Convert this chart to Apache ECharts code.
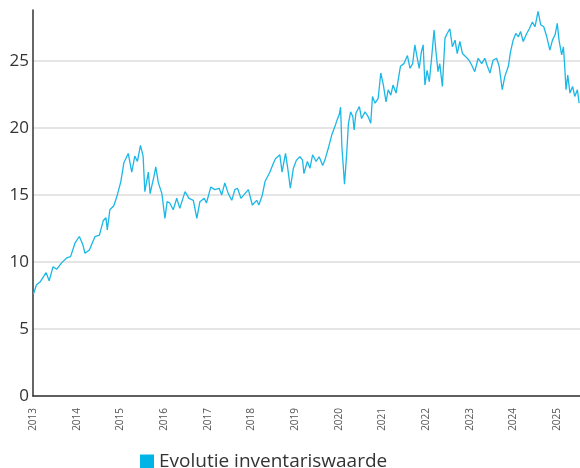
<!DOCTYPE html>
<html>
<head>
<meta charset="utf-8">
<script src="https://cdn.jsdelivr.net/npm/echarts@6/dist/echarts.min.js"></script>
<style>
html,body{margin:0;padding:0;background:#fff;}
#chart{width:580px;height:468px;}
</style>
</head>
<body>
<div id="chart"></div>
<script>
// decimal years
const years = [
2013.01,2013.08,2013.16,2013.30,2013.37,2013.46,2013.54,2013.66,2013.77,2013.86,2013.96,
2014.06,2014.14,2014.19,2014.29,2014.42,2014.52,2014.61,2014.67,2014.70,2014.76,2014.85,2014.93,
2015.01,2015.08,2015.18,2015.26,2015.33,2015.39,2015.46,2015.52,2015.56,2015.64,2015.68,2015.77,2015.81,2015.87,2015.95,
2016.02,2016.07,2016.13,2016.21,2016.29,2016.36,2016.48,2016.57,2016.67,2016.75,2016.82,2016.92,2016.97,
2017.07,2017.16,2017.26,2017.32,2017.39,2017.47,2017.55,2017.62,2017.68,2017.76,2017.85,2017.93,
2018.02,2018.12,2018.17,2018.25,2018.31,2018.42,2018.50,2018.55,2018.65,2018.70,2018.78,2018.83,2018.89,2018.96,
2019.03,2019.11,2019.17,2019.20,2019.28,2019.34,2019.40,2019.48,2019.55,2019.63,2019.68,2019.76,2019.84,2019.91,2019.96,
2020.01,2020.04,2020.07,2020.13,2020.18,2020.22,2020.27,2020.32,2020.35,2020.39,2020.47,2020.52,2020.60,2020.67,2020.73,2020.77,2020.83,2020.90,2020.96,
2021.02,2021.08,2021.13,2021.19,2021.24,2021.31,2021.36,2021.41,2021.49,2021.57,2021.63,2021.69,2021.74,2021.79,2021.84,2021.89,2021.93,2021.97,
2022.02,2022.07,2022.12,2022.18,2022.22,2022.27,2022.31,2022.37,2022.43,2022.48,2022.54,2022.60,2022.66,2022.71,2022.77,2022.83,2022.91,2022.98,
2023.04,2023.11,2023.19,2023.27,2023.34,2023.40,2023.46,2023.53,2023.61,2023.67,2023.74,2023.80,2023.88,2023.93,2023.99,
2024.05,2024.11,2024.16,2024.22,2024.30,2024.36,2024.43,2024.49,2024.56,2024.62,2024.69,2024.76,2024.83,2024.89,2024.95,
2025.00,2025.04,2025.10,2025.14,2025.17,2025.20,2025.24,2025.29,2025.35,2025.40,2025.46,2025.50
];
const values = [
7.6,8.3,8.5,9.2,8.6,9.65,9.45,9.95,10.3,10.4,11.4,
11.9,11.3,10.65,10.9,11.9,12.0,13.1,13.3,12.4,13.9,14.2,15.0,
16.0,17.4,18.1,16.7,17.9,17.5,18.7,17.9,15.25,16.7,15.1,16.4,17.1,15.9,15.1,
13.25,14.5,14.4,13.9,14.75,14.0,15.25,14.75,14.6,13.25,14.5,14.75,14.4,
15.6,15.4,15.5,15.0,15.9,15.1,14.6,15.4,15.5,14.75,15.1,15.4,
14.25,14.6,14.25,15.0,16.0,16.7,17.35,17.7,18.0,16.7,18.1,17.0,15.5,17.0,
17.6,17.85,17.6,16.6,17.5,17.0,18.0,17.5,17.85,17.2,17.6,18.5,19.5,20.1,20.6,
21.0,21.55,18.6,15.8,18.1,20.35,21.2,20.85,19.85,21.1,21.6,20.7,21.2,20.85,20.35,22.35,21.85,22.2,24.1,
23.2,21.95,22.85,22.45,23.2,22.6,23.6,24.6,24.8,25.4,24.45,24.8,26.2,25.3,24.45,25.7,26.2,23.2,
24.3,23.45,25.1,27.3,25.8,24.2,24.8,23.1,26.7,27.05,27.4,26.05,26.55,25.55,26.45,25.55,25.3,25.05,
24.7,24.2,25.2,24.8,25.2,24.6,24.1,25.05,25.2,24.6,22.85,23.85,24.6,25.7,26.55,
27.05,26.8,27.2,26.45,27.05,27.4,27.9,27.55,28.7,27.7,27.55,26.8,25.8,26.55,26.95,
27.8,26.55,25.45,26.05,24.6,22.85,23.95,22.6,23.1,22.35,22.85,21.85
];
const yearLabels = ['2013','2014','2015','2016','2017','2018','2019','2020','2021','2022','2023','2024','2025'];
const seriesName = 'Evolutie inventariswaarde';

const data = years.map((y, i) => [y, values[i]]);
const chart = echarts.init(document.getElementById('chart'), null, {renderer: 'canvas'});
chart.setOption({
  animation: false,
  backgroundColor: '#ffffff',
  grid: {left: 33, right: 0, top: 10, bottom: 72, containLabel: false},
  legend: {
    data: [{name: seriesName, icon: 'rect'}],
    left: 135, top: 447,
    itemWidth: 14, itemHeight: 14,
    textStyle: {fontFamily: 'Open Sans', fontSize: 19, color: '#333'}
  },
  xAxis: {
    type: 'value',
    min: 2013, max: 2025.52, interval: 1,
    axisLine: {show: true, lineStyle: {color: '#333', width: 1.5}},
    axisTick: {show: false},
    splitLine: {show: false},
    axisLabel: {
      rotate: 90, margin: 12, fontSize: 10, color: '#555', fontFamily: 'Open Sans',
      showMaxLabel: false,
      formatter: v => { const s = String(Math.round(v)); return yearLabels.indexOf(s) >= 0 ? s : ''; }
    }
  },
  yAxis: {
    type: 'value',
    min: 0, max: 28.8, interval: 5,
    axisLine: {show: true, lineStyle: {color: '#333', width: 1.5}},
    axisTick: {show: false},
    splitLine: {show: true, showMaxLine: false, lineStyle: {color: '#dcdcdc', width: 1.5}},
    axisLabel: {margin: 4, fontSize: 17, color: '#333', fontFamily: 'Open Sans', showMaxLabel: false}
  },
  series: [{
    name: seriesName,
    type: 'line',
    data: data,
    showSymbol: false,
    symbol: 'none',
    lineStyle: {color: '#1bb7e6', width: 1.3},
    itemStyle: {color: '#00b4e6'}
  }]
});
</script>
</body>
</html>
